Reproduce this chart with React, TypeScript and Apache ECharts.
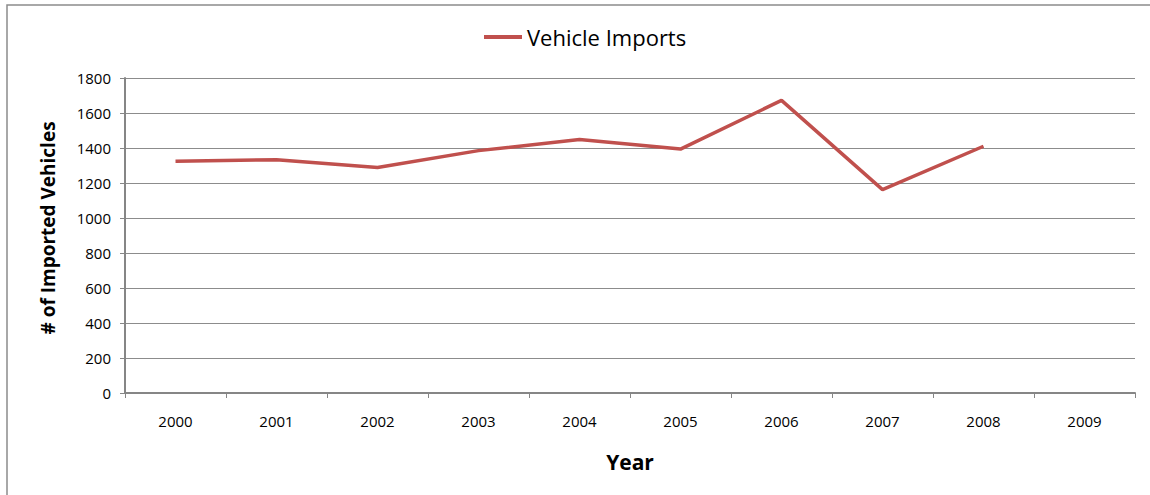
import React, { useEffect, useRef } from "react";
import * as echarts from "echarts";

const years = ["2000", "2001", "2002", "2003", "2004", "2005", "2006", "2007", "2008", "2009"];
const vehicleImports: (number | null)[] = [1324, 1333, 1288, 1385, 1448, 1394, 1672, 1162, 1410, null];
const seriesName = "Vehicle Imports";
const yAxisTitle = "# of Imported Vehicles";
const xAxisTitle = "Year";

const FONT = "'Open Sans', sans-serif";

export default function App() {
  const ref = useRef<HTMLDivElement>(null);
  useEffect(() => {
    if (!ref.current) return;
    const chart = echarts.init(ref.current, null, { renderer: "svg" });
    chart.setOption({
      animation: false,
      backgroundColor: "#ffffff",
      graphic: [
        {
          type: "rect",
          shape: { x: 7, y: 5, width: 1160, height: 510 },
          style: { fill: "none", stroke: "#8c8c8c", lineWidth: 1.5 },
          silent: true,
        },
        {
          type: "text",
          x: 48,
          y: 228,
          rotation: Math.PI / 2,
          style: {
            text: yAxisTitle,
            fontFamily: FONT,
            fontSize: 19,
            fontWeight: "bold",
            fill: "#000",
            align: "center",
            verticalAlign: "middle",
          },
          silent: true,
        },
      ],
      legend: {
        top: 21,
        left: 479,
        itemWidth: 38,
        itemHeight: 4,
        itemGap: 3,
        icon: "rect",
        textStyle: { fontFamily: FONT, fontSize: 22, color: "#000" },
        data: [{ name: seriesName, icon: "rect" }],
      },
      grid: { left: 125, right: 15, top: 78, bottom: 102, containLabel: false },
      xAxis: {
        type: "category",
        data: years,
        boundaryGap: true,
        name: xAxisTitle,
        nameLocation: "middle",
        nameGap: 58,
        nameTextStyle: { fontFamily: FONT, fontSize: 21, fontWeight: "bold", color: "#000" },
        axisLine: { lineStyle: { color: "#868686", width: 2 } },
        axisTick: { show: true, length: 5, alignWithLabel: false, lineStyle: { color: "#868686" } },
        axisLabel: { fontFamily: FONT, fontSize: 15, color: "#000", margin: 20 },
        splitLine: { show: false },
      },
      yAxis: {
        type: "value",
        min: 0,
        max: 1800,
        interval: 200,
        axisLine: { show: true, lineStyle: { color: "#868686", width: 2 } },
        axisTick: { show: true, length: 5, lineStyle: { color: "#868686" } },
        axisLabel: {
          fontFamily: FONT,
          fontSize: 15,
          color: "#000",
          margin: 14,
          formatter: (v: number) => String(v),
        },
        splitLine: { show: true, lineStyle: { color: "#8c8c8c", width: 1 } },
      },
      series: [
        {
          name: seriesName,
          type: "line",
          data: vehicleImports,
          symbol: "none",
          lineStyle: { color: "#c0504d", width: 3.5 },
          itemStyle: { color: "#c0504d" },
          connectNulls: false,
        },
      ],
    });
    return () => chart.dispose();
  }, []);
  return (
    <div
      ref={ref}
      style={{ position: "fixed", left: 0, top: 0, width: 1150, height: 495 }}
    />
  );
}
